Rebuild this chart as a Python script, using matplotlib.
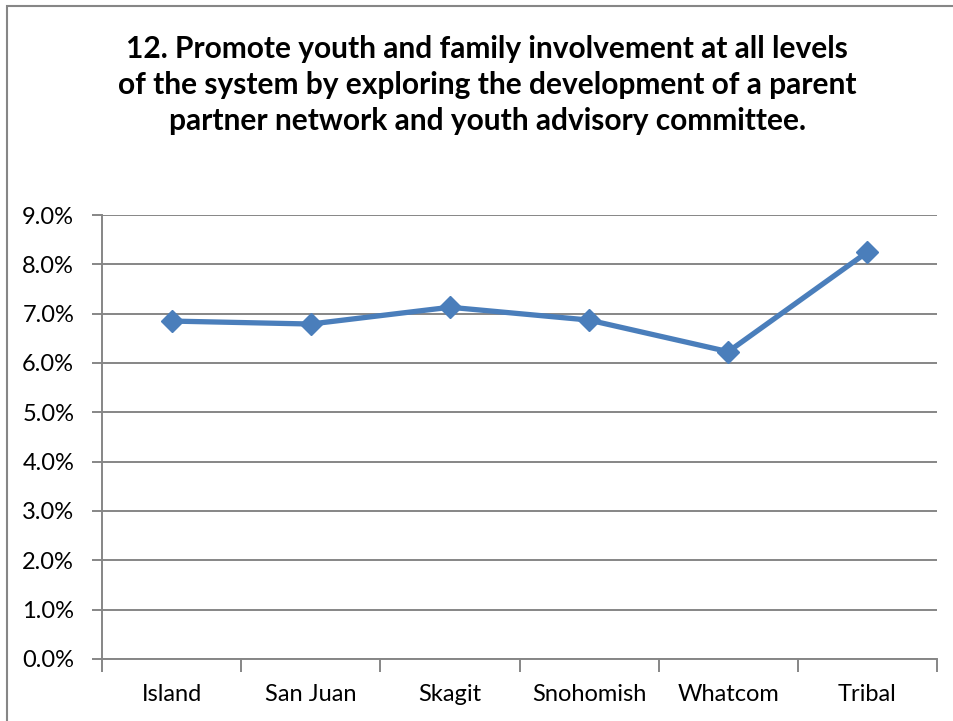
import matplotlib.pyplot as plt
from matplotlib.patches import Rectangle
from matplotlib.ticker import FuncFormatter, MultipleLocator

plt.rcParams['font.family'] = ['Lato', 'DejaVu Sans']

counties = ['Island', 'San Juan', 'Skagit', 'Snohomish', 'Whatcom', 'Tribal']
rates = [6.85, 6.79, 7.13, 6.87, 6.23, 8.25]

title = ('12. Promote youth and family involvement at all levels\n'
         'of the system by exploring the development of a parent\n'
         'partner network and youth advisory committee.')

fig = plt.figure(figsize=(9.54, 7.21), dpi=100)
ax = fig.add_axes([0.1069, 0.086, 0.8753, 0.6158])

# outer chart border (runs off the right and bottom edges)
fig.patches.append(Rectangle((7 / 954, -0.05), 1.2, 1 - 6 / 721 + 0.05,
                             transform=fig.transFigure, fill=False,
                             edgecolor='#868686', linewidth=1.5))

x = range(len(counties))
ax.plot(x, rates, color='#4A7EBB', linewidth=3.8, marker='D',
        markersize=11, zorder=3)

ax.set_xlim(-0.5, len(counties) - 0.5)
ax.set_ylim(0, 9)
ax.yaxis.set_major_locator(MultipleLocator(1))
ax.yaxis.set_major_formatter(FuncFormatter(lambda v, p: f'{v:.1f}%'))
ax.grid(axis='y', color='#868686', linewidth=1.4)
ax.set_axisbelow(True)

ax.set_xticks(list(x))
ax.set_xticklabels(counties)
ax.set_xticks([i - 0.5 for i in range(len(counties) + 1)], minor=True)
ax.tick_params(axis='x', which='major', length=0, pad=18, labelsize=17)
ax.tick_params(axis='x', which='minor', length=9, width=1.4, color='#868686')
ax.tick_params(axis='y', length=7, width=1.4, color='#868686', labelsize=17, pad=13)

for side in ['top', 'right']:
    ax.spines[side].set_visible(False)
for side in ['left', 'bottom']:
    ax.spines[side].set_color('#868686')
    ax.spines[side].set_linewidth(1.4)

fig.text(0.5105, 1 - 85 / 721, title, ha='center', va='center', fontsize=21.5,
         fontweight='bold', linespacing=1.36)

fig.savefig('out.png', dpi=100)
